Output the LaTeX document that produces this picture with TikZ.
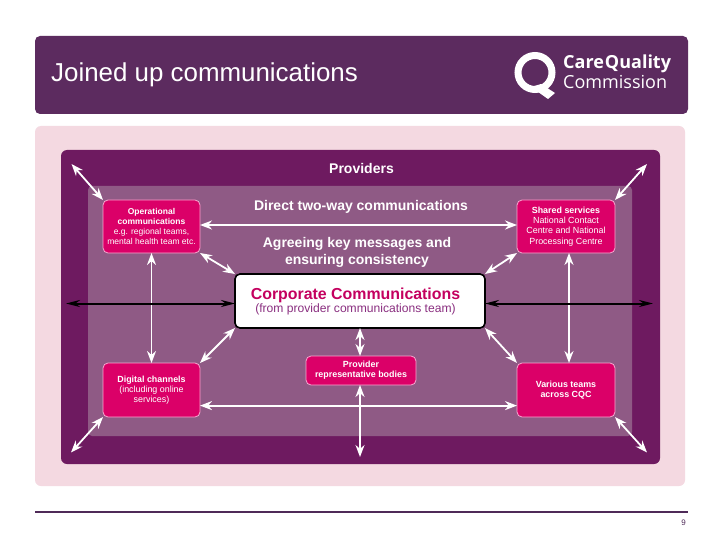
\documentclass[tikz,border=0pt]{standalone}
\usepackage{fontspec}
\setmainfont{Liberation Sans}
\newfontfamily\logofont{Open Sans}
\usetikzlibrary{arrows.meta}
\definecolor{headbg}{HTML}{5C2B5F}
\definecolor{panelbg}{HTML}{F4D9E1}
\definecolor{darkbg}{HTML}{6E1A60}
\definecolor{innerbg}{HTML}{8F5A85}
\definecolor{boxbg}{HTML}{DB0068}
\definecolor{boxedge}{HTML}{F8A8D0}
\definecolor{corptitle}{HTML}{C4005F}
\definecolor{corpsub}{HTML}{8A2F80}
\definecolor{rulecol}{HTML}{4F2A58}
\tikzset{
  x=1pt,y=-1pt,
  sizedbox/.style={anchor=north west,inner sep=0pt,outer sep=0pt},
  pinkbox/.style={sizedbox,draw=boxedge,line width=0.8pt,fill=boxbg,rounded corners=5pt,text=white,align=center,font=\fontsize{8.9}{10.3}\selectfont},
  wlink/.style={draw=white,line width=1.8pt,{Stealth[length=12pt,width=9pt]}-{Stealth[length=12pt,width=9pt]}},
  blink/.style={draw=black,line width=2pt,{Stealth[length=14pt,width=7pt]}-{Stealth[length=14pt,width=7pt]}},
  headtext/.style={text=white,font=\bfseries\fontsize{14}{17}\selectfont,align=center,inner sep=0pt},
}
\begin{document}
\begin{tikzpicture}
\useasboundingbox (0,0) rectangle (720,540);
\fill[white] (0,0) rectangle (720,540);
% header
\node[sizedbox,fill=headbg,rounded corners=5pt,minimum width=653pt,minimum height=78pt] (header) at (35,36) {};
\node[anchor=west,inner sep=0pt,text=white,font=\fontsize{25.9}{28}\selectfont] (title) at (51,75) {Joined up communications};
% logo
\draw[white,line width=7pt] (535,72.5) circle (17);
\fill[white] (531,87) -- (541,84) -- (555,93) -- (548,99) -- cycle;
\node[anchor=west,inner sep=0pt,text=white,font=\logofont\bfseries\fontsize{18}{20}\selectfont] (logoa) at (563,64) {Care\kern1ptQuality};
\node[anchor=west,inner sep=0pt,text=white,font=\logofont\fontsize{18}{20}\selectfont] (logob) at (563,82) {Commission};
% panels
\node[sizedbox,fill=panelbg,rounded corners=6pt,minimum width=650pt,minimum height=360pt] (panel) at (35,126) {};
\node[sizedbox,fill=darkbg,rounded corners=6pt,minimum width=599pt,minimum height=314pt] (outer) at (61,150) {};
\node[sizedbox,fill=innerbg,rounded corners=4pt,minimum width=544pt,minimum height=250pt] (inner) at (88,186) {};
% free ends
\coordinate (tl) at (71.5,164);
\coordinate (tr) at (647,164);
\coordinate (bl) at (71,452.5);
\coordinate (br) at (647,452.5);
\coordinate (bm) at (360,457);
\coordinate (ml) at (66,303.5);
\coordinate (mr) at (653,303.5);
% boxes
\node[pinkbox,minimum width=97pt,minimum height=53pt,font=\fontsize{8.5}{10.3}\selectfont] (op) at (103,200)
  {\textbf{Operational}\\\textbf{communications}\\e.g. regional teams,\\mental health team etc.};
\node[pinkbox,minimum width=98pt,minimum height=53pt] (sh) at (517,200)
  {\textbf{Shared services}\\National Contact\\Centre and National\\Processing Centre};
\node[pinkbox,minimum width=97pt,minimum height=54pt] (dig) at (103,363)
  {\textbf{Digital channels}\\(including online\\services)};
\node[pinkbox,minimum width=98pt,minimum height=54pt] (var) at (517,363)
  {\textbf{Various teams}\\\textbf{across CQC}};
\node[pinkbox,minimum width=110pt,minimum height=29pt] (rep) at (306,356)
  {\raisebox{-1pt}{\textbf{Provider}}\\\raisebox{-1pt}{\textbf{representative bodies}}};
\node[sizedbox,draw=black,line width=1.6pt,fill=white,rounded corners=5pt,minimum width=250pt,minimum height=54pt] (corp) at (235,274) {};
\node[inner sep=0pt,align=center] (corptext) at (355.5,301.5)
  {{\color{corptitle}\bfseries\fontsize{15.9}{18}\selectfont Corporate Communications}\\[0.8pt]
   {\color{corpsub}\fontsize{12.1}{14}\selectfont (from provider communications team)}};
% labels
\node[headtext] (prov) at (361.5,168) {Providers};
\node[headtext] (direct) at (361,207) {Direct two-way communications};
\node[headtext] (agree) at (357,252) {Agreeing key messages and\\ensuring consistency};
% connectors
\draw[wlink] ([yshift=1.5pt]op.east) -- ([yshift=1.5pt]sh.west);
\draw[wlink] ([yshift=-15.6pt]dig.east) -- ([yshift=-15.6pt]var.west);
\draw[wlink] (op.south) -- (dig.north);
\draw[wlink] ([xshift=3pt]sh.south) -- ([xshift=3pt]var.north);
\draw[wlink] (tl) -- (op.north west);
\draw[wlink] (tr) -- (sh.north east);
\draw[wlink] (bl) -- (dig.south west);
\draw[wlink] (br) -- (var.south east);
\draw[wlink] (op.south east) -- (corp.north west);
\draw[wlink] (sh.south west) -- (corp.north east);
\draw[wlink] (dig.north east) -- (corp.south west);
\draw[wlink] (var.north west) -- (corp.south east);
\draw[wlink] (corp.south) -- ([xshift=-1pt]rep.north);
\draw[wlink] ([xshift=-1pt]rep.south) -- (bm);
\draw[blink] (ml) -- ([yshift=-2.5pt]corp.west);
\draw[blink] ([yshift=-2.5pt]corp.east) -- (mr);
% footer
\coordinate (fa) at (35,512);
\coordinate (fb) at (688,512);
\draw[rulecol,line width=1.4pt] (fa) -- (fb);
\node[inner sep=0pt,text=rulecol,font=\fontsize{8}{10}\selectfont] (pg) at (683.5,522.5) {9};
\end{tikzpicture}
\end{document}
